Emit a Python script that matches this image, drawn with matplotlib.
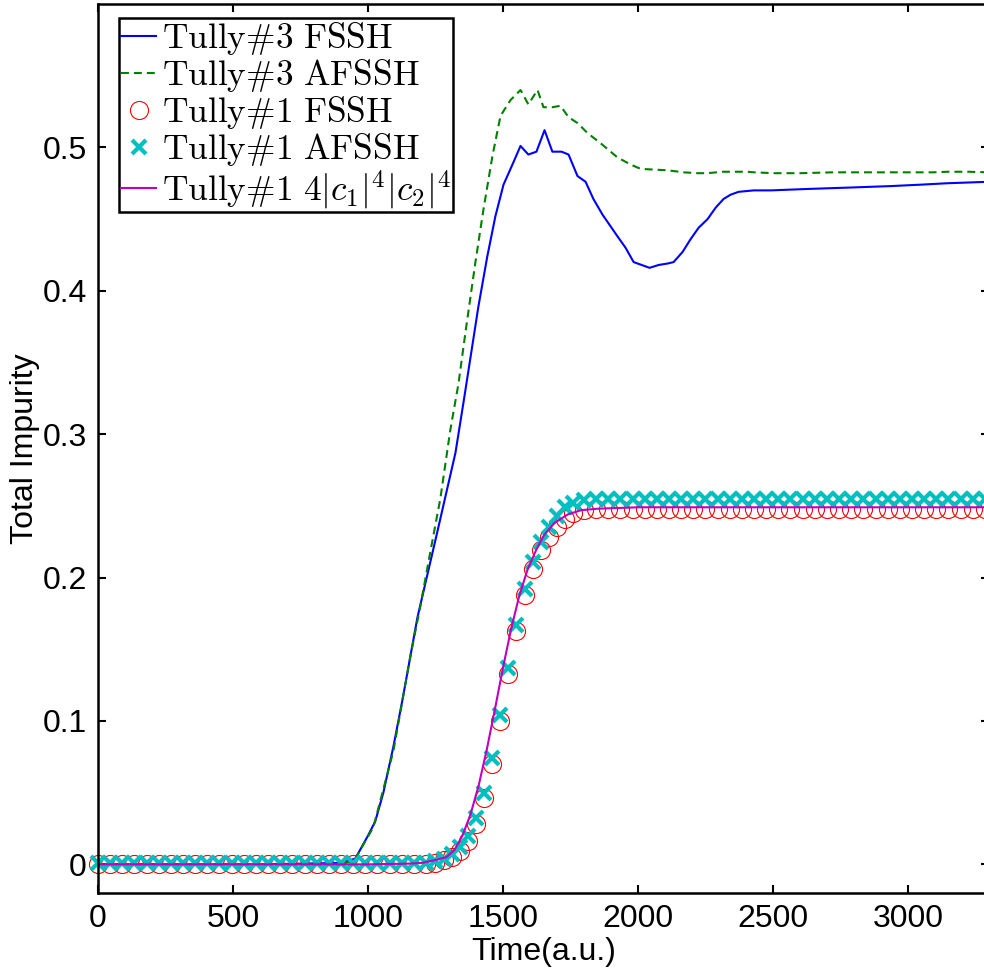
import matplotlib
matplotlib.use('Agg')
import matplotlib.pyplot as plt

plt.rcParams['mathtext.fontset'] = 'cm'
plt.rcParams['font.family'] = ['Liberation Sans', 'DejaVu Sans']

# Tully#3 FSSH (blue line)
t_fssh3 = [0, 300, 600, 900, 953, 1000, 1027, 1057, 1094, 1127, 1183, 1257, 1324, 1357, 1409,
           1442, 1472, 1502, 1535, 1565, 1594, 1624, 1654, 1683, 1717, 1743, 1776, 1806, 1835,
           1869, 1924, 1954, 1984, 2043, 2077, 2110, 2132, 2165, 2195, 2225, 2258, 2288, 2317,
           2343, 2373, 2429, 2492, 2629, 2788, 2937, 3048, 3148, 3300]
y_fssh3 = [0.0, 0.0, 0.0, 0.001, 0.004, 0.020, 0.030, 0.050, 0.082, 0.114, 0.172, 0.232, 0.287,
           0.326, 0.389, 0.424, 0.452, 0.474, 0.488, 0.501, 0.495, 0.497, 0.512, 0.497, 0.497,
           0.495, 0.480, 0.476, 0.464, 0.453, 0.438, 0.430, 0.420, 0.416, 0.418, 0.419, 0.420,
           0.427, 0.436, 0.444, 0.450, 0.458, 0.464, 0.467, 0.469, 0.470, 0.470, 0.471, 0.472,
           0.473, 0.474, 0.475, 0.476]

# Tully#3 AFSSH (green dashed)
t_afssh3 = [0, 300, 600, 900, 950, 1020, 1094, 1157, 1194, 1231, 1268, 1305, 1335, 1364, 1398,
            1428, 1461, 1491, 1528, 1565, 1594, 1628, 1650, 1683, 1713, 1743, 1776, 1813, 1861,
            1924, 1973, 2010, 2110, 2169, 2221, 2258, 2313, 2369, 2406, 2429, 2503, 2603, 2725,
            2911, 3096, 3148, 3222, 3300]
y_afssh3 = [0.0, 0.0, 0.0, 0.0, 0.003, 0.026, 0.079, 0.145, 0.180, 0.218, 0.255, 0.303, 0.335,
            0.375, 0.420, 0.457, 0.494, 0.522, 0.533, 0.540, 0.530, 0.540, 0.528, 0.528, 0.529,
            0.521, 0.517, 0.510, 0.503, 0.493, 0.488, 0.485, 0.484, 0.4826, 0.482, 0.482, 0.483,
            0.483, 0.483, 0.4826, 0.482, 0.482, 0.4826, 0.4826, 0.4826, 0.483, 0.483, 0.4826]

# Tully#1 markers (FSSH circles, AFSSH crosses)
t_tully1 = [0, 45, 90, 135, 180, 225, 270, 315, 360, 405, 450, 495, 540, 585, 630, 675, 720,
            765, 810, 855, 900, 945, 990, 1035, 1080, 1125, 1170, 1215,
            1250, 1280, 1310, 1340, 1370, 1400, 1430, 1460, 1490, 1520, 1550, 1580, 1610, 1640,
            1670, 1700, 1730, 1760,
            1800, 1845, 1890, 1935, 1980, 2025, 2070, 2115, 2160, 2205, 2250, 2295, 2340, 2385,
            2430, 2475, 2520, 2565, 2610, 2655, 2700, 2745, 2790, 2835, 2880, 2925, 2970, 3015,
            3060, 3105, 3150, 3195, 3240, 3285]
y_fssh1 = [0.0, 0.0, 0.0, 0.0, 0.0, 0.0, 0.0, 0.0, 0.0, 0.0, 0.0, 0.0, 0.0, 0.0, 0.0, 0.0, 0.0,
           0.0, 0.0, 0.0, 0.0, 0.0, 0.0, 0.0, 0.0, 0.0, 0.0, 0.0,
           0.001, 0.003, 0.005, 0.009, 0.016, 0.028, 0.046, 0.070, 0.100, 0.133, 0.163, 0.188,
           0.206, 0.219, 0.228, 0.235, 0.241, 0.245,
           0.247, 0.248, 0.248, 0.248, 0.248, 0.248, 0.248, 0.248, 0.248, 0.248, 0.248, 0.248,
           0.248, 0.248, 0.248, 0.248, 0.248, 0.248, 0.248, 0.248, 0.248, 0.248, 0.248, 0.248,
           0.248, 0.248, 0.248, 0.248, 0.248, 0.248, 0.248, 0.248, 0.248, 0.248]
y_afssh1 = [0.001, 0.001, 0.001, 0.001, 0.001, 0.001, 0.001, 0.001, 0.001, 0.001, 0.001, 0.001,
            0.001, 0.001, 0.001, 0.001, 0.001, 0.001, 0.001, 0.001, 0.001, 0.001, 0.001, 0.001,
            0.001, 0.001, 0.001, 0.001,
            0.002, 0.004, 0.007, 0.012, 0.020, 0.032, 0.050, 0.074, 0.104, 0.137, 0.167, 0.192,
            0.211, 0.225, 0.235, 0.243, 0.249, 0.252,
            0.254, 0.2545, 0.2545, 0.2545, 0.2545, 0.2545, 0.2545, 0.2545, 0.2545, 0.2545,
            0.2545, 0.2545, 0.2545, 0.2545, 0.2545, 0.2545, 0.2545, 0.2545, 0.2545, 0.2545,
            0.2545, 0.2545, 0.2545, 0.2545, 0.2545, 0.2545, 0.2545, 0.2545, 0.2545, 0.2545,
            0.2545, 0.2545, 0.2545, 0.2545]

# Tully#1 4|c1|^4|c2|^4 (magenta)
t_c = [0, 600, 1000, 1150, 1200, 1250, 1290, 1320, 1350, 1380, 1410, 1440, 1470, 1500, 1530,
       1560, 1590, 1620, 1650, 1690, 1740, 1790, 1850, 2000, 3300]
y_c = [0.0, 0.0, 0.0, 0.0005, 0.001, 0.003, 0.005, 0.010, 0.020, 0.035, 0.055, 0.080, 0.108,
       0.137, 0.164, 0.187, 0.205, 0.218, 0.229, 0.238, 0.244, 0.247, 0.248, 0.249, 0.249]

xticks = [0, 500, 1000, 1500, 2000, 2500, 3000]
yticks = [0, 0.1, 0.2, 0.3, 0.4, 0.5]
ytick_labels = ['0', '0.1', '0.2', '0.3', '0.4', '0.5']

fig = plt.figure(figsize=(9.84, 9.69), dpi=100)
ax = fig.add_axes([0.0996, 0.0784, 0.9054, 0.9175])

ax.plot(t_fssh3, y_fssh3, color='#0000ff', lw=1.5, label=r'$\mathrm{Tully\#3\ FSSH}$')
ax.plot(t_afssh3, y_afssh3, color='#008000', lw=1.5, linestyle=(0, (3.8, 2.4)),
        label=r'$\mathrm{Tully\#3\ AFSSH}$')
ax.plot(t_tully1, y_fssh1, 'o', mfc='none', mec='#ff0000', ms=13, mew=0.8, clip_on=False,
        label=r'$\mathrm{Tully\#1\ FSSH}$')
ax.plot(t_tully1, y_afssh1, 'x', color='#00bfbf', ms=10, mew=3, clip_on=False,
        label=r'$\mathrm{Tully\#1\ AFSSH}$')
ax.plot(t_c, y_c, color='#bf00bf', lw=1.5, label=r'$\mathrm{Tully\#1}\ 4|c_1|^4|c_2|^4$')

ax.set_xlim(0, 3300)
ax.set_ylim(-0.02, 0.6)
ax.set_xticks(xticks)
ax.set_yticks(yticks)
ax.set_yticklabels(ytick_labels)
ax.tick_params(direction='in', length=6, width=1.5, labelsize=23, top=True, right=True, pad=8)
for s in ax.spines.values():
    s.set_linewidth(1.8)

ax.set_xlabel('Time(a.u.)', fontsize=23, labelpad=2)
ax.set_ylabel('Total Impurity', fontsize=23, labelpad=2)

leg = ax.legend(loc='upper left', bbox_to_anchor=(0.0236, 0.984), borderaxespad=0,
                fontsize=25.5, fancybox=False, framealpha=1, edgecolor='black',
                handlelength=1.0, handletextpad=0.15, labelspacing=0.0, borderpad=0.05)
leg.get_frame().set_linewidth(1.8)

fig.savefig('out.png', dpi=100)
